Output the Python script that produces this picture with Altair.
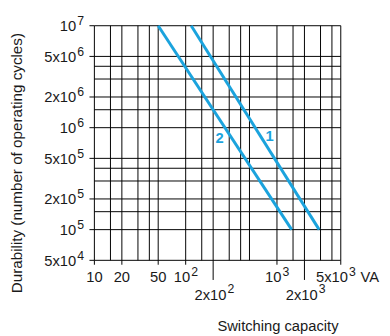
import altair as alt
import pandas as pd

# ---- data ----
x_grid = [10, 15, 20, 30, 40, 50, 100, 150, 200, 300, 400, 500,
          1000, 1500, 2000, 3000, 4000, 5000]
y_grid = [5e4, 1e5, 1.5e5, 2e5, 3e5, 4e5, 5e5, 1e6, 1.5e6, 2e6,
          3e6, 4e6, 5e6, 1e7]

y_tick_vals = [1e7, 5e6, 2e6, 1e6, 5e5, 2e5, 1e5, 5e4]
y_tick_base = ["10", "5x10", "2x10", "10", "5x10", "2x10", "10", "5x10"]
y_tick_exp = ["7", "6", "6", "6", "5", "5", "5", "4"]

x_short_ticks = [10, 20, 50, 100, 1000, 5000]
x_long_ticks = [200, 2000]

x_plain_vals = [10, 20, 50]
x_plain_text = ["10", "20", "50"]
x_pow_vals = [100, 1000]
x_pow_base = ["10", "10"]
x_pow_exp = ["2", "3"]
x_low_vals = [200, 2000]
x_low_base = ["2x10", "2x10"]
x_low_exp = ["2", "3"]
x_last_val = [5000]
x_last_base = ["5x10"]
x_last_exp = ["3"]
x_unit = ["VA"]

series_name = ["1", "1", "2", "2"]
series_x = [115, 2900, 50, 1450]
series_y = [1e7, 1e5, 1e7, 1e5]

curve_label = ["1", "2"]
curve_label_x = [830, 236]
curve_label_y = [8.2e5, 7.9e5]

x_title = "Switching capacity"
y_title = "Durability (number of operating cycles)"

# ---- layout ----
W, H = 251, 239
FONT = "Liberation Sans"
BLUE = "#1ba3dd"
TXT = "#1a1a1a"

xs = alt.Scale(type="log", domain=[10, 5000], nice=False)
ys = alt.Scale(type="log", domain=[5e4, 1e7], nice=False)


def X(f):
    return alt.X(f, type="quantitative", scale=xs, axis=None)


def Y(f):
    return alt.Y(f, type="quantitative", scale=ys, axis=None)


vgrid = alt.Chart(pd.DataFrame({"v": x_grid})).mark_rule(
    color="black", strokeWidth=1).encode(x=X("v"))
hgrid = alt.Chart(pd.DataFrame({"v": y_grid})).mark_rule(
    color="black", strokeWidth=1).encode(y=Y("v"))

ytick_df = pd.DataFrame({"v": y_tick_vals, "b": y_tick_base, "e": y_tick_exp})
yticks = alt.Chart(ytick_df).mark_rule(color="black", strokeWidth=1).encode(
    y=Y("v"), x=alt.value(-5), x2=alt.value(0))
ylab_base = alt.Chart(ytick_df).mark_text(
    align="right", baseline="alphabetic", font=FONT, fontSize=15, color=TXT, dy=5.5
).encode(y=Y("v"), x=alt.value(-18.5), text="b:N")
ylab_exp = alt.Chart(ytick_df).mark_text(
    align="left", baseline="alphabetic", font=FONT, fontSize=12.5, color=TXT, dy=-0.5
).encode(y=Y("v"), x=alt.value(-17.5), text="e:N")

xshort = alt.Chart(pd.DataFrame({"v": x_short_ticks})).mark_rule(
    color="black", strokeWidth=1).encode(x=X("v"), y=alt.value(H), y2=alt.value(H + 4.5))
xlong = alt.Chart(pd.DataFrame({"v": x_long_ticks})).mark_rule(
    color="black", strokeWidth=1).encode(x=X("v"), y=alt.value(H), y2=alt.value(H + 20))

ROW1 = H + 22
ROW2 = H + 40

xplain = alt.Chart(pd.DataFrame({"v": x_plain_vals, "t": x_plain_text})).mark_text(
    align="center", baseline="alphabetic", font=FONT, fontSize=15, color=TXT
).encode(x=X("v"), y=alt.value(ROW1), text="t:N")


def pow_label(vals, base, exp, row, shift):
    df = pd.DataFrame({"v": vals, "b": base, "e": exp})
    b = alt.Chart(df).mark_text(
        align="right", baseline="alphabetic", font=FONT, fontSize=15, color=TXT, dx=shift
    ).encode(x=X("v"), y=alt.value(row), text="b:N")
    e = alt.Chart(df).mark_text(
        align="left", baseline="alphabetic", font=FONT, fontSize=12.5, color=TXT, dx=shift + 1
    ).encode(x=X("v"), y=alt.value(row - 6.5), text="e:N")
    return [b, e]


xpow = pow_label(x_pow_vals, x_pow_base, x_pow_exp, ROW1, 4.6)
xlow = pow_label(x_low_vals, x_low_base, x_low_exp, ROW2, 13.5)
xlast = pow_label(x_last_val, x_last_base, x_last_exp, ROW1, 7.3)
unit = alt.Chart(pd.DataFrame({"v": x_last_val, "t": x_unit})).mark_text(
    align="left", baseline="alphabetic", font=FONT, fontSize=15, color=TXT, dx=20
).encode(x=X("v"), y=alt.value(ROW1), text="t:N")

lines = alt.Chart(pd.DataFrame({"x": series_x, "y": series_y, "s": series_name})).mark_line(
    color=BLUE, strokeWidth=3).encode(x=X("x"), y=Y("y"), detail="s:N")

clabels = alt.Chart(pd.DataFrame({"x": curve_label_x, "y": curve_label_y, "t": curve_label})).mark_text(
    font=FONT, fontSize=15, fontWeight="bold", color=BLUE, align="center", baseline="middle"
).encode(x=X("x"), y=Y("y"), text="t:N")

xt = alt.Chart(pd.DataFrame({"t": [x_title]})).mark_text(
    align="center", baseline="alphabetic", font=FONT, fontSize=15, color=TXT
).encode(x=alt.value(187), y=alt.value(H + 71.5), text="t:N")
yt = alt.Chart(pd.DataFrame({"t": [y_title]})).mark_text(
    align="center", baseline="alphabetic", font=FONT, fontSize=15.5, color=TXT, angle=270
).encode(x=alt.value(-74), y=alt.value(140), text="t:N")

chart = alt.layer(
    vgrid, hgrid, yticks, xshort, xlong, lines, clabels,
    ylab_base, ylab_exp, xplain, *xpow, *xlow, *xlast, unit, xt, yt
).properties(
    width=W, height=H,
    autosize=alt.AutoSizeParams(type="none"),
    padding={"left": 88, "top": 15, "right": 42, "bottom": 72},
).configure_view(strokeWidth=0)

chart.save("out.html", embed_options={"renderer": "svg", "actions": False})
